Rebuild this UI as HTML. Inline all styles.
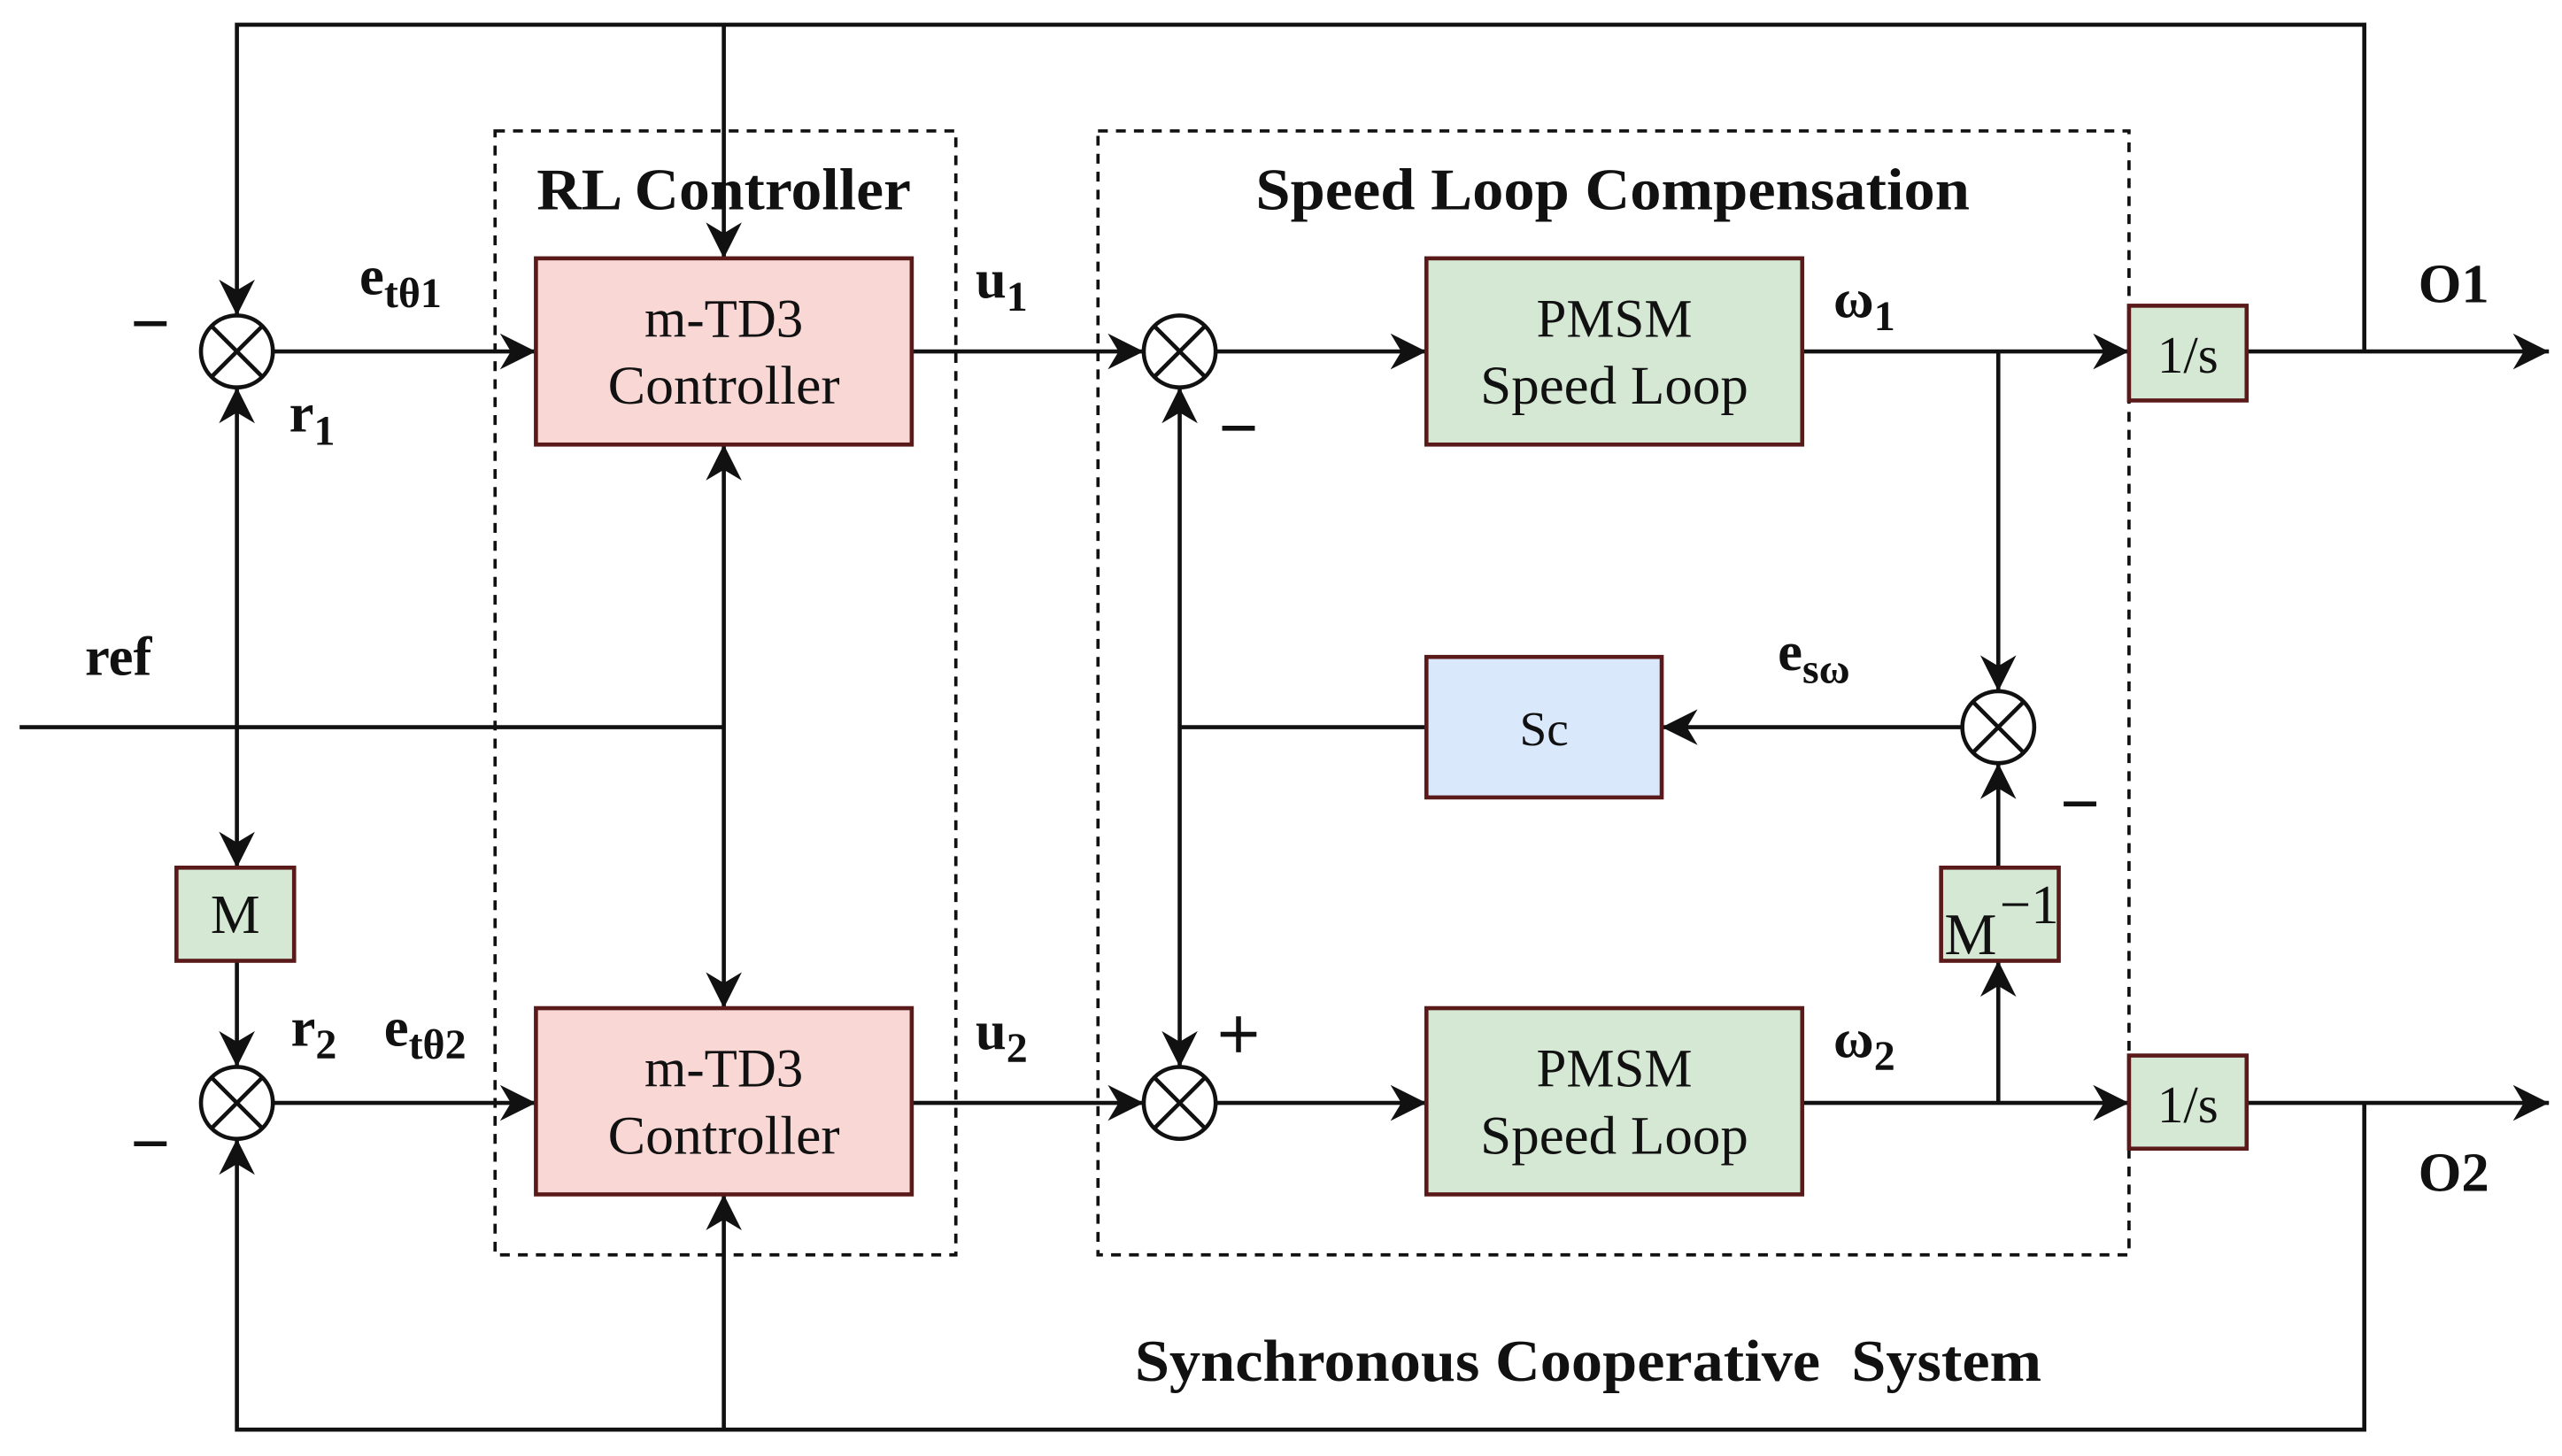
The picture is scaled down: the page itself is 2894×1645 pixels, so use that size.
<!DOCTYPE html>
<html><head><meta charset="utf-8"><style>
html,body{margin:0;padding:0;background:#fff;}
svg{display:block;}
text{font-family:"Liberation Serif",serif;fill:#111;}
.b{font-weight:bold;}
</style></head><body>
<svg width="2894" height="1645" viewBox="0 0 1568 891" xmlns="http://www.w3.org/2000/svg">
<defs>
<marker id="A" viewBox="0 0 10 10" refX="10" refY="5" markerWidth="22" markerHeight="22" markerUnits="userSpaceOnUse" orient="auto-start-reverse">
<path d="M0,0 L10,5 L0,10 L3,5 z" fill="#111"/></marker>
</defs>
<g stroke="#111" stroke-width="2.5" fill="none">
<rect x="303" y="80" width="282" height="688" stroke-dasharray="6,5" stroke-width="2"/>
<rect x="672" y="80" width="631" height="688" stroke-dasharray="6,5" stroke-width="2"/>
<polyline points="1447,215 1447,15 145,15 145,193" marker-end="url(#A)"/>
<line x1="443" y1="15" x2="443" y2="158" marker-end="url(#A)"/>
<polyline points="1447,675 1447,875 145,875 145,697" marker-end="url(#A)"/>
<line x1="443" y1="875" x2="443" y2="731" marker-end="url(#A)"/>
<line x1="12" y1="445" x2="443" y2="445"/>
<line x1="443" y1="272" x2="443" y2="617" marker-start="url(#A)" marker-end="url(#A)"/>
<line x1="145" y1="237" x2="145" y2="531" marker-start="url(#A)" marker-end="url(#A)"/>
<line x1="145" y1="588" x2="145" y2="653" marker-end="url(#A)"/>
<line x1="167" y1="215" x2="328" y2="215" marker-end="url(#A)"/>
<line x1="167" y1="675" x2="328" y2="675" marker-end="url(#A)"/>
<line x1="558" y1="215" x2="700" y2="215" marker-end="url(#A)"/>
<line x1="558" y1="675" x2="700" y2="675" marker-end="url(#A)"/>
<line x1="744" y1="215" x2="873" y2="215" marker-end="url(#A)"/>
<line x1="744" y1="675" x2="873" y2="675" marker-end="url(#A)"/>
<line x1="1103" y1="215" x2="1303" y2="215" marker-end="url(#A)"/>
<line x1="1103" y1="675" x2="1303" y2="675" marker-end="url(#A)"/>
<line x1="1375" y1="215" x2="1560" y2="215" marker-end="url(#A)"/>
<line x1="1375" y1="675" x2="1560" y2="675" marker-end="url(#A)"/>
<line x1="722" y1="237" x2="722" y2="653" marker-start="url(#A)" marker-end="url(#A)"/>
<line x1="722" y1="445" x2="873" y2="445"/>
<line x1="1201" y1="445" x2="1017" y2="445" marker-end="url(#A)"/>
<line x1="1223" y1="215" x2="1223" y2="423" marker-end="url(#A)"/>
<line x1="1223" y1="531" x2="1223" y2="467" marker-end="url(#A)"/>
<line x1="1223" y1="675" x2="1223" y2="588" marker-end="url(#A)"/>
<!-- minus signs -->
<line x1="82" y1="198" x2="102" y2="198" stroke-width="3"/>
<line x1="82" y1="700" x2="102" y2="700" stroke-width="3"/>
<line x1="748" y1="262" x2="768" y2="262" stroke-width="3"/>
<line x1="1263" y1="492" x2="1283" y2="492" stroke-width="3"/>
<line x1="747" y1="633" x2="769" y2="633" stroke-width="3"/>
<line x1="758" y1="622" x2="758" y2="644" stroke-width="3"/>
</g>
<g stroke="#5a1a1a" stroke-width="2.5">
<rect x="328" y="158" width="230" height="114" fill="#f8d7d5"/>
<rect x="328" y="617" width="230" height="114" fill="#f8d7d5"/>
<rect x="873" y="158" width="230" height="114" fill="#d5e8d4"/>
<rect x="873" y="617" width="230" height="114" fill="#d5e8d4"/>
<rect x="1303" y="187" width="72" height="58" fill="#d5e8d4"/>
<rect x="1303" y="646" width="72" height="57" fill="#d5e8d4"/>
<rect x="873" y="402" width="144" height="86" fill="#dae8fc"/>
<rect x="1188" y="531" width="72" height="57" fill="#d5e8d4"/>
<rect x="108" y="531" width="72" height="57" fill="#d5e8d4"/>
</g>
<g stroke="#111" stroke-width="2.5" fill="#fff">
<g transform="translate(145,215)"><circle r="22"/><path d="M-15.5,-15.5L15.5,15.5M15.5,-15.5L-15.5,15.5"/></g>
<g transform="translate(145,675)"><circle r="22"/><path d="M-15.5,-15.5L15.5,15.5M15.5,-15.5L-15.5,15.5"/></g>
<g transform="translate(722,215)"><circle r="22"/><path d="M-15.5,-15.5L15.5,15.5M15.5,-15.5L-15.5,15.5"/></g>
<g transform="translate(722,675)"><circle r="22"/><path d="M-15.5,-15.5L15.5,15.5M15.5,-15.5L-15.5,15.5"/></g>
<g transform="translate(1223,445)"><circle r="22"/><path d="M-15.5,-15.5L15.5,15.5M15.5,-15.5L-15.5,15.5"/></g>
</g>
<g font-size="33" text-anchor="middle">
<text x="443" y="206">m-TD3</text><text x="443" y="247" textLength="142" lengthAdjust="spacingAndGlyphs">Controller</text>
<text x="443" y="665">m-TD3</text><text x="443" y="706" textLength="142" lengthAdjust="spacingAndGlyphs">Controller</text>
<text x="988" y="206">PMSM</text><text x="988" y="247" textLength="164" lengthAdjust="spacingAndGlyphs">Speed Loop</text>
<text x="988" y="665">PMSM</text><text x="988" y="706" textLength="164" lengthAdjust="spacingAndGlyphs">Speed Loop</text>
<text x="1339" y="228" font-size="32">1/s</text><text x="1339" y="687" font-size="32">1/s</text>
<text x="945" y="456" font-size="30">Sc</text>
<text x="144" y="571" font-size="34">M</text>
<text x="1206" y="584" font-size="36">M</text><text x="1242" y="565" font-size="34">−1</text>
</g>
<g font-size="36" text-anchor="middle">
<text class="b" x="443" y="128" textLength="229" lengthAdjust="spacingAndGlyphs">RL Controller</text>
<text class="b" x="987" y="128" textLength="437" lengthAdjust="spacingAndGlyphs">Speed Loop Compensation</text>
<text class="b" x="972" y="845" textLength="555" lengthAdjust="spacingAndGlyphs" xml:space="preserve">Synchronous Cooperative  System</text>
</g>
<g font-size="34">
<text class="b" x="220" y="180">e<tspan font-size="26" dy="8">tθ1</tspan></text>
<text class="b" x="177" y="264">r<tspan font-size="26" dy="8">1</tspan></text>
<text class="b" x="597" y="182">u<tspan font-size="26" dy="8">1</tspan></text>
<text class="b" x="1122" y="194">ω<tspan font-size="26" dy="8">1</tspan></text>
<text class="b" x="1480" y="185">O1</text>
<text class="b" x="1088" y="410">e<tspan font-size="26" dy="8">sω</tspan></text>
<text class="b" x="52" y="413">ref</text>
<text class="b" x="178" y="640">r<tspan font-size="26" dy="8">2</tspan></text>
<text class="b" x="235" y="640">e<tspan font-size="26" dy="8">tθ2</tspan></text>
<text class="b" x="597" y="642">u<tspan font-size="26" dy="8">2</tspan></text>
<text class="b" x="1122" y="647">ω<tspan font-size="26" dy="8">2</tspan></text>
<text class="b" x="1480" y="729">O2</text>
</g>
</svg>
</body></html>
